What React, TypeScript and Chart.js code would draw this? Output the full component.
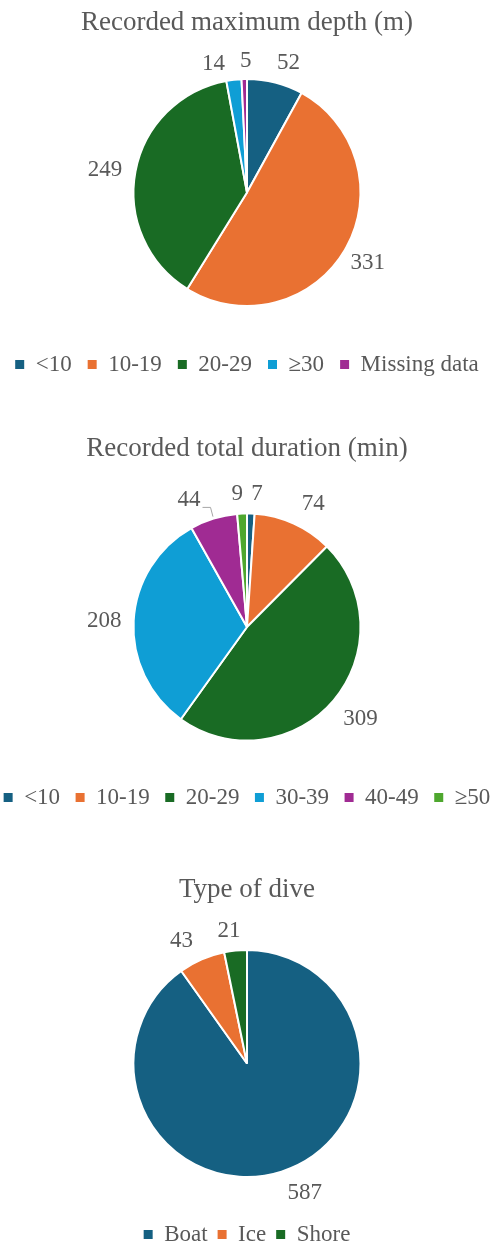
import React, { useEffect, useRef } from "react";
import { Chart, registerables } from "chart.js";

Chart.register(...registerables);

// ---- Data ----
const depthLabels = ["<10", "10-19", "20-29", "≥30", "Missing data"];
const depthValues = [52, 331, 249, 14, 5];

const durationLabels = ["<10", "10-19", "20-29", "30-39", "40-49", "≥50"];
const durationValues = [7, 74, 309, 208, 44, 9];

const typeLabels = ["Boat", "Ice", "Shore"];
const typeValues = [587, 43, 21];

const depthTitle = "Recorded maximum depth (m)";
const durationTitle = "Recorded total duration (min)";
const typeTitle = "Type of dive";

// ---- Style ----
const PALETTE = ["#156082", "#E97132", "#196B24", "#0F9ED5", "#A02B93", "#4EA72E"];
const FONT = "'Times New Roman', 'Liberation Serif', serif";
const TEXT = "#595959";

const outsideLabels = {
  id: "outsideLabels",
  afterDatasetsDraw(chart: any, _args: any, opts: any) {
    const ctx = chart.ctx;
    const meta = chart.getDatasetMeta(0);
    const data = chart.data.datasets[0].data;
    ctx.save();
    ctx.font = `${opts.size}px ${FONT}`;
    ctx.fillStyle = opts.color;
    ctx.textAlign = "center";
    ctx.textBaseline = "middle";
    meta.data.forEach((arc: any, i: number) => {
      const { x, y, startAngle, endAngle, outerRadius } = arc.getProps(
        ["x", "y", "startAngle", "endAngle", "outerRadius"],
        true
      );
      const mid = (startAngle + endAngle) / 2;
      const dx = Math.cos(mid);
      const dy = Math.sin(mid);
      const text = String(data[i]);
      const w = ctx.measureText(text).width;
      const off = opts.gap + (w / 2) * Math.abs(dx) + opts.halfHeight * Math.abs(dy);
      const n = (opts.nudge && opts.nudge[i]) || [0, 0];
      const lx = x + (outerRadius + off) * dx + n[0];
      const ly = y + (outerRadius + off) * dy + n[1];
      ctx.fillText(text, lx, ly);
      if (opts.leader && opts.leader[i]) {
        ctx.beginPath();
        ctx.strokeStyle = "#a6a6a6";
        ctx.lineWidth = 1;
        const sx = lx + w / 2 + 2;
        const sy = ly + 7;
        ctx.moveTo(sx, sy);
        ctx.lineTo(sx + 8, sy);
        ctx.lineTo(x + (outerRadius + 2) * dx, y + (outerRadius + 2) * dy);
        ctx.stroke();
      }
    });
    ctx.restore();
  },
};

function makeConfig(
  labels: string[],
  values: number[],
  title: string,
  titlePadBottom: number,
  legendPad: number,
  labelOpts: any
) {
  return {
    type: "pie" as const,
    data: {
      labels,
      datasets: [
        {
          data: values,
          backgroundColor: PALETTE.slice(0, values.length),
          borderColor: "#ffffff",
          borderWidth: 2,
          radius: 113.5,
        },
      ],
    },
    plugins: [outsideLabels],
    options: {
      animation: false,
      responsive: true,
      maintainAspectRatio: false,
      events: [],
      layout: { padding: 0 },
      plugins: {
        title: {
          display: true,
          text: title,
          color: TEXT,
          font: { family: FONT, size: 27, weight: "normal", lineHeight: 1.2 },
          padding: { top: 7, bottom: titlePadBottom },
        },
        legend: {
          display: true,
          position: "bottom",
          labels: {
            color: TEXT,
            font: { family: FONT, size: 23 },
            boxWidth: 9,
            boxHeight: 9,
            padding: legendPad,
            generateLabels: (chart: any) =>
              (Chart as any).overrides.pie.plugins.legend.labels
                .generateLabels(chart)
                .map((l: any) => ({ ...l, lineWidth: 0, strokeStyle: "rgba(0,0,0,0)" })),
          },
        },
        tooltip: { enabled: false },
        outsideLabels: {
          size: 23,
          color: TEXT,
          gap: 13,
          halfHeight: 6,
          ...labelOpts,
        },
      },
    },
  };
}

function PieBox({ top, height, config }: { top: number; height: number; config: any }) {
  const ref = useRef<HTMLCanvasElement | null>(null);
  useEffect(() => {
    if (!ref.current) return;
    const chart = new Chart(ref.current, config);
    return () => chart.destroy();
  }, [config]);
  return (
    <div style={{ position: "absolute", left: -13, top, width: 520, height }}>
      <canvas ref={ref} />
    </div>
  );
}

const depthConfig = makeConfig(depthLabels, depthValues, depthTitle, 8.6, 16, {
  nudge: [[8, 1], [-4, -2], [0, 4], [-18, 4], [2, 1]],
});
const durationConfig = makeConfig(durationLabels, durationValues, durationTitle, 18.1, 15.5, {
  nudge: [[5.5, 0], [10, 2], [4, -1], [1, 2], [-18, 3], [-4, 0]],
  leader: [false, false, false, false, true, false],
});
const typeConfig = makeConfig(typeLabels, typeValues, typeTitle, 7.6, 10, {
  nudge: [[16, -2], [-11, 3], [-4.5, 0]],
});

export default function App() {
  return (
    <div
      style={{
        position: "fixed",
        left: 0,
        top: 0,
        width: 496,
        height: 1243,
        overflow: "hidden",
        background: "#ffffff",
      }}
    >
      <PieBox top={0} height={386} config={depthConfig} />
      <PieBox top={426} height={393} config={durationConfig} />
      <PieBox top={867} height={389} config={typeConfig} />
    </div>
  );
}
